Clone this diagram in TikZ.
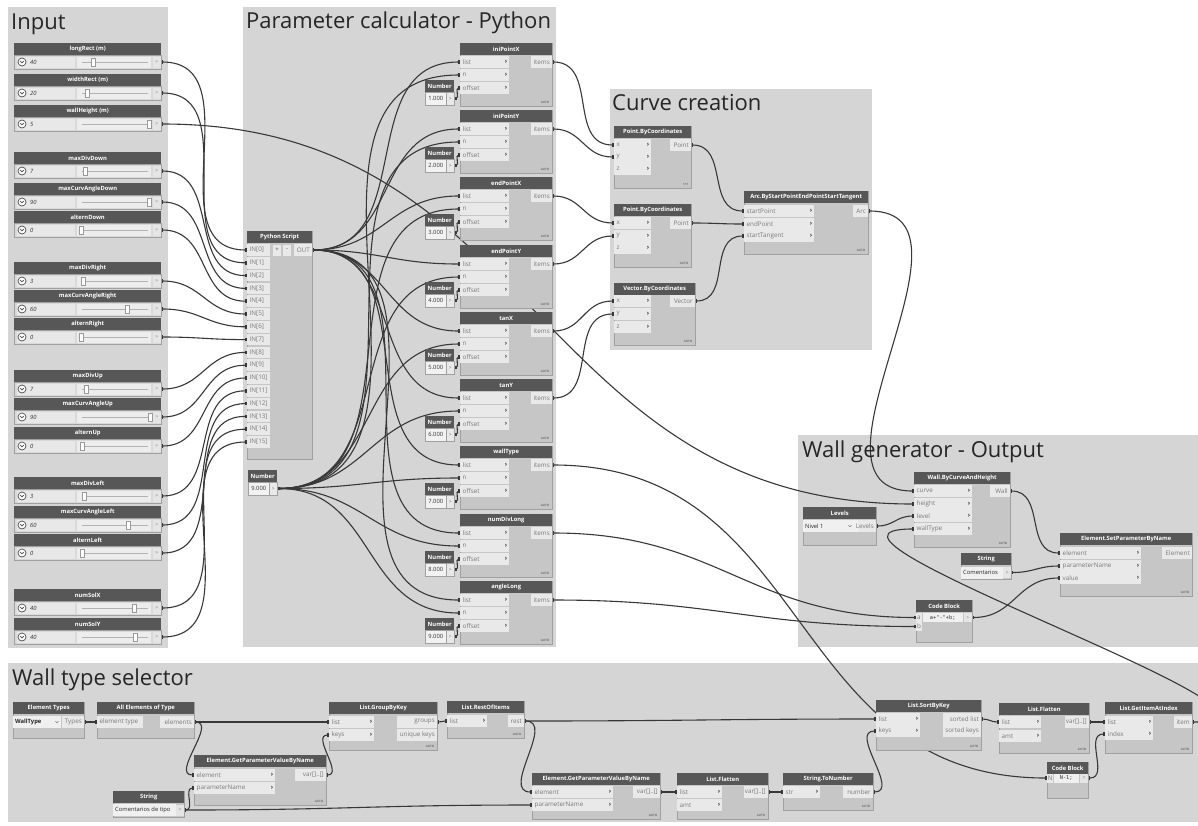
\documentclass[tikz,border=0pt]{standalone}
\usepackage{fontspec}
\setmainfont{Open Sans}
\newfontfamily\monof{DejaVu Sans Mono}
\usetikzlibrary{arrows.meta}
\pgfdeclarelayer{bg}
\pgfdeclarelayer{wires}
\pgfsetlayers{bg,wires,main}
\definecolor{grp}{HTML}{D5D5D5}
\definecolor{hdr}{HTML}{575757}
\definecolor{bdy}{HTML}{C6C6C6}
\definecolor{brd}{HTML}{A0A0A0}
\definecolor{rowc}{HTML}{E9E9E9}
\definecolor{lbl}{HTML}{7A7A7A}
\definecolor{wirec}{HTML}{383838}
\tikzset{
 grptitle/.style={font=\fontsize{22}{22}\selectfont, text=black!85, anchor=base west, inner sep=0pt},
 dbody/.style={fill=bdy, draw=brd, line width=0.6pt, inner sep=0pt},
 dhead/.style={fill=hdr, text=white, font=\fontsize{5.8}{6}\selectfont\bfseries, minimum height=12pt, inner sep=0pt},
 drow/.style={fill=rowc, minimum height=11.5pt, inner sep=0pt},
 dlbl/.style={text=lbl, font=\fontsize{6.3}{6.5}\selectfont, inner sep=0pt},
 darr/.style={text=black!75, font=\fontsize{6.5}{6.5}\selectfont\bfseries, inner sep=0pt},
 dauto/.style={text=black!55, font=\fontsize{3}{3}\selectfont\bfseries, inner sep=0pt, anchor=south east},
 dtxt/.style={text=black!85, font=\fontsize{5.8}{6}\selectfont, inner sep=0pt},
 ddrop/.style={fill=rowc!70!white, minimum height=12pt, inner sep=0pt},
 nval/.style={fill=rowc!60!white, draw=brd, line width=0.5pt, minimum height=12.5pt, font=\fontsize{5.8}{6}\selectfont, text=black!80, inner sep=0pt},
 nport/.style={fill=rowc, draw=brd, line width=0.5pt, minimum height=12.5pt, font=\fontsize{5}{5}\selectfont, text=lbl, inner sep=0pt},
 sbody/.style={fill=black!15, draw=brd, line width=0.5pt, minimum height=13.5pt, inner sep=0pt},
 sfield/.style={fill=black!9, minimum height=11pt, inner sep=0pt},
 strack/.style={fill=black!7, minimum height=11pt, inner sep=0pt},
 sbtn/.style={circle, fill=white, draw=black!70, line width=0.7pt, minimum size=8pt, inner sep=0pt},
 sval/.style={font=\fontsize{5.8}{6}\selectfont\itshape, text=black!80, inner sep=0pt},
 sthumb/.style={fill=white, draw=black!40, line width=0.5pt, minimum width=3.5pt, minimum height=8pt, inner sep=0pt},
 sport/.style={fill=black!10, minimum width=8pt, minimum height=11pt, text=lbl, font=\fontsize{5}{5}\selectfont, inner sep=0pt},
 pbtn/.style={fill=rowc, minimum width=8pt, minimum height=11pt, text=black!70, font=\fontsize{6}{6}\selectfont, inner sep=0pt},
 cfield/.style={fill=rowc!70!white, minimum height=9pt, font=\monof\fontsize{5.3}{5.5}\selectfont, text=black!80, inner sep=0pt},
 wire/.style={draw=wirec, line width=1.1pt, arrows={Rectangle[length=2pt,width=3.5pt]-Rectangle[length=2pt,width=3.5pt]}},
}
\newcommand\dyn[6]{%
  \node[dbody,minimum width=#4pt,minimum height=#5pt,anchor=north west] (#1) at (#2,#3) {};
  \node[dhead,minimum width=#4pt,anchor=north west] (#1h) at (#2,#3) {#6};}
\newcommand\dinx[5]{%
  \node[drow,minimum width=#4pt,anchor=west] (#1) at (#2,#3) {};
  \node[dlbl,anchor=west] (#1l) at ([xshift=2.5pt]#1.west) {#5};}
\newcommand\din[5]{\dinx{#1}{#2}{#3}{#4}{#5}%
  \node[darr,anchor=east] (#1a) at ([xshift=-2pt]#1.east) {›};}
\newcommand\dout[5]{%
  \node[drow,minimum width=#4pt,anchor=east] (#1) at (#2,#3) {};
  \node[dlbl,anchor=east] (#1l) at ([xshift=-2pt]#1.east) {#5};}
\newcommand\dfoot[4]{\node[dauto] (#1) at (#2-2.5,#3-2) {#4};}
\newcommand\numnode[4]{%
  \node[dhead,minimum width=29pt,anchor=north west] (#1) at (#2,#3) {Number};
  \node[nval,minimum width=21pt,anchor=north west] (#1-v) at (#2,#3+12) {#4};
  \node[nport,minimum width=8pt,anchor=north west] (#1-o) at (#2+21,#3+12) {>};}
\newcommand\nth[4]{%
  \dyn{#1}{460}{#2}{92}{63}{#3}%
  \din{#1-list}{460}{#2+19}{49}{list}%
  \din{#1-n}{460}{#2+32}{49}{n}%
  \din{#1-off}{460}{#2+45}{49}{offset}%
  \dout{#1-items}{552}{#2+19}{21}{items}%
  \dfoot{#1-auto}{552}{#2+63}{AUTO}%
  \numnode{#1-num}{425}{#2+37}{#4}}
\newcommand\slider[5]{%
  \node[dhead,minimum width=147pt,anchor=north west] (#1) at (14,#2) {#3};
  \node[sbody,minimum width=147pt,anchor=north west] (#1-b) at (14,#2+12) {};
  \node[sfield,minimum width=58pt,anchor=west] (#1-f) at (17,#2+19) {};
  \node[strack,minimum width=74pt,anchor=west] (#1-k) at (77,#2+19) {};
  \node[sbtn] (#1-c) at (22,#2+19) {};
  \draw[black!70,line width=0.7pt] (20.2,#2+18.1) -- (22,#2+19.9) -- (23.8,#2+18.1);
  \node[sval,anchor=west] (#1-v) at (30,#2+19) {#4};
  \draw[black!30,line width=0.7pt] (82,#2+19) -- (148,#2+19);
  \node[sthumb] (#1-t) at (#5,#2+19) {};
  \node[sport,anchor=east] (#1-o) at (161,#2+19) {>};}
\newcommand\chev[2]{\draw[lbl,line width=0.5pt] (#1-1.5,#2-0.8) -- (#1,#2+0.7) -- (#1+1.5,#2-0.8);}
\newcommand\wire[2]{\draw[wire] (#1) to[out=0,in=180,looseness=1.15] (#2);}
\begin{document}
\begin{tikzpicture}[x=1pt,y=-1pt]
\useasboundingbox (0,0) rectangle (1198,825);
\begin{pgfonlayer}{bg}
  \fill[white] (0,0) rectangle (1198,825);
  \fill[grp] (8,7) rectangle (168,648);
  \fill[grp] (243,7) rectangle (556,647);
  \fill[grp] (610,89) rectangle (872,350);
  \fill[grp] (798,435) rectangle (1198,647);
  \fill[grp] (8,663) rectangle (1198,822);
\end{pgfonlayer}
% group titles
\node[grptitle] (g-in) at (11,29) {Input};
\node[grptitle] (g-pc) at (246,28) {Parameter calculator - Python};
\node[grptitle] (g-cc) at (612,110) {Curve creation};
\node[grptitle] (g-wg) at (802,457) {Wall generator - Output};
\node[grptitle] (g-wt) at (12,685) {Wall type selector};
% sliders
\slider{lr}{43}{longRect (m)}{40}{93}
\slider{wr}{74}{widthRect (m)}{20}{87}
\slider{wh}{105}{wallHeight (m)}{5}{149}
\slider{mdd}{152}{maxDivDown}{7}{85}
\slider{mcad}{183}{maxCurvAngleDown}{90}{149}
\slider{ad}{211}{alternDown}{0}{81}
\slider{mdr}{262}{maxDivRight}{3}{83}
\slider{mcar}{290}{maxCurvAngleRight}{60}{127}
\slider{ar}{318}{alternRight}{0}{81}
\slider{mdu}{370}{maxDivUp}{7}{86}
\slider{mcau}{398}{maxCurvAngleUp}{90}{150}
\slider{au}{427}{alternUp}{0}{82}
\slider{mdl}{477}{maxDivLeft}{3}{84}
\slider{mcal}{506}{maxCurvAngleLeft}{60}{128}
\slider{al}{534}{alternLeft}{0}{82}
\slider{nsx}{589}{numSolX}{40}{134}
\slider{nsy}{618}{numSolY}{40}{135}
% python script
\dyn{py}{247}{231}{65}{228}{Python Script}
\foreach \k in {0,...,15}{\dinx{py-in\k}{247}{250+12.8*\k}{23}{IN[\k]}}
\node[pbtn] (py-plus) at (277,250) {+};
\node[pbtn] (py-minus) at (287,250) {-};
\dout{py-out}{312}{250}{18}{OUT}
\numnode{n9}{248}{470}{9.000}
% take nth nodes
\nth{ipx}{43}{iniPointX}{1.000}
\nth{ipy}{110}{iniPointY}{2.000}
\nth{epx}{177}{endPointX}{3.000}
\nth{epy}{245}{endPointY}{4.000}
\nth{tx}{312}{tanX}{5.000}
\nth{ty}{379}{tanY}{6.000}
\nth{wt}{446}{wallType}{7.000}
\nth{ndl}{514}{numDivLong}{8.000}
\nth{agl}{581}{angleLong}{9.000}
% curve creation
\dyn{pt1}{614}{126}{77}{62}{Point.ByCoordinates}
\din{pt1-x}{614}{145}{37}{x}
\din{pt1-y}{614}{157}{37}{y}
\din{pt1-z}{614}{169}{37}{z}
\dout{pt1-out}{691}{145}{21}{Point}
\dfoot{pt1-f}{691}{188}{111}
\dyn{pt2}{614}{204}{77}{63}{Point.ByCoordinates}
\din{pt2-x}{614}{223}{37}{x}
\din{pt2-y}{614}{236}{37}{y}
\din{pt2-z}{614}{248}{37}{z}
\dout{pt2-out}{691}{223}{21}{Point}
\dfoot{pt2-f}{691}{267}{AUTO}
\dyn{vec}{614}{283}{81}{62}{Vector.ByCoordinates}
\din{vec-x}{614}{301}{37}{x}
\din{vec-y}{614}{314}{37}{y}
\din{vec-z}{614}{327}{37}{z}
\dout{vec-out}{695}{301}{25}{Vector}
\dfoot{vec-f}{695}{345}{AUTO}
\dyn{arc}{744}{191}{124}{63}{Arc.ByStartPointEndPointStartTangent}
\din{arc-sp}{744}{211}{70}{startPoint}
\din{arc-ep}{744}{224}{70}{endPoint}
\din{arc-st}{744}{236}{70}{startTangent}
\dout{arc-out}{868}{211}{15}{Arc}
\dfoot{arc-f}{868}{254}{AUTO}
% wall generator
\dyn{wall}{914}{472}{96}{75}{Wall.ByCurveAndHeight}
\din{wall-curve}{914}{491}{58}{curve}
\din{wall-height}{914}{504}{58}{height}
\din{wall-level}{914}{516}{58}{level}
\din{wall-type}{914}{529}{58}{wallType}
\dout{wall-out}{1010}{491}{20}{Wall}
\dfoot{wall-f}{1010}{547}{AUTO}
\dyn{lev}{803}{507}{73}{38}{Levels}
\node[ddrop,minimum width=55pt,anchor=west] (lev-d) at (803,526) {};
\node[dtxt,anchor=west] (lev-t) at (805,526) {Nivel 1};
\chev{850}{526}
\dout{lev-out}{876}{526}{18}{Levels}
\dyn{str1}{961}{553}{50}{26}{String}
\node[ddrop,minimum width=42pt,anchor=west] (str1-f) at (961,572.5) {};
\node[dtxt,anchor=west] (str1-t) at (963,572.5) {Comentarios};
\node[sport,anchor=west] (str1-o) at (1003,572.5) {>};
\dyn{setp}{1060}{533}{132}{63}{Element.SetParameterByName}
\din{setp-el}{1060}{553}{81}{element}
\din{setp-pn}{1060}{566}{81}{parameterName}
\din{setp-val}{1060}{578}{81}{value}
\dout{setp-out}{1192}{553}{30}{Element}
\dfoot{setp-f}{1192}{596}{AUTO}
\dyn{cb1}{916}{600}{56}{42}{Code Block}
\node[drow,minimum width=5.5pt,minimum height=9pt,anchor=west] (cb1-a) at (916,617.5) {};
\node[dlbl] (cb1-al) at (cb1-a.center) {a};
\node[cfield,minimum width=40pt,anchor=west] (cb1-c) at (922.5,617.5) {a+"-"+b;};
\node[sport,minimum height=9pt,anchor=west] (cb1-o) at (963.5,617.5) {>};
\node[drow,minimum width=5.5pt,minimum height=9pt,anchor=west] (cb1-b) at (916,626.5) {};
\node[dlbl] (cb1-bl) at (cb1-b.center) {b};
% wall type selector
\dyn{et}{13}{702}{71}{36}{Element Types}
\node[ddrop,minimum width=48pt,anchor=west] (et-d) at (13,722) {};
\node[dtxt,anchor=west,font=\fontsize{5.8}{6}\selectfont\bfseries] (et-t) at (15,722) {WallType};
\chev{57}{722}
\dout{et-out}{84}{722}{22}{Types}
\dyn{ae}{97}{702}{97}{36}{All Elements of Type}
\dinx{ae-in}{97}{722}{46}{element type}
\dout{ae-out}{194}{722}{34}{elements}
\dyn{gbk}{329}{702}{108}{48}{List.GroupByKey}
\din{gbk-list}{329}{722}{45}{list}
\din{gbk-keys}{329}{735}{45}{keys}
\dout{gbk-g}{437}{722}{40}{groups}
\dout{gbk-u}{437}{735}{40}{unique keys}
\dfoot{gbk-f}{437}{750}{AUTO}
\dyn{roi}{447}{701}{77}{37}{List.RestOfItems}
\din{roi-list}{447}{721}{40}{list}
\dout{roi-rest}{524}{721}{16}{rest}
\dfoot{roi-f}{524}{738}{AUTO}
\dyn{gp1}{194}{755}{132}{50}{Element.GetParameterValueByName}
\din{gp1-el}{194}{775}{81}{element}
\din{gp1-pn}{194}{788}{81}{parameterName}
\dout{gp1-out}{326}{775}{31}{var[]..[]}
\dfoot{gp1-f}{326}{805}{AUTO}
\dyn{str2}{113}{791}{71}{26}{String}
\node[ddrop,minimum width=63pt,anchor=west] (str2-f) at (113,810) {};
\node[dtxt,anchor=west] (str2-t) at (115,810) {Comentarios de tipo};
\node[sport,anchor=west] (str2-o) at (176,810) {>};
\dyn{gp2}{532}{773}{128}{46}{Element.GetParameterValueByName}
\din{gp2-el}{532}{792}{81}{element}
\din{gp2-pn}{532}{805}{81}{parameterName}
\dout{gp2-out}{660}{792}{27}{var[]..[]}
\dfoot{gp2-f}{660}{819}{AUTO}
\dyn{fl1}{677}{773}{91}{46}{List.Flatten}
\din{fl1-list}{677}{792}{45}{list}
\din{fl1-amt}{677}{805}{45}{amt}
\dout{fl1-out}{768}{792}{24}{var[]..[]}
\dfoot{fl1-f}{768}{819}{AUTO}
\dyn{tn}{783}{773}{90}{37}{String.ToNumber}
\din{tn-str}{783}{792}{37}{str}
\dout{tn-out}{873}{792}{30}{number}
\dfoot{tn-f}{873}{810}{AUTO}
\dyn{sbk}{876}{700}{105}{50}{List.SortByKey}
\din{sbk-list}{876}{719}{44}{list}
\din{sbk-keys}{876}{731}{44}{keys}
\dout{sbk-sl}{981}{719}{38}{sorted list}
\dout{sbk-sk}{981}{731}{38}{sorted keys}
\dfoot{sbk-f}{981}{750}{AUTO}
\dyn{fl2}{999}{703}{90}{50}{List.Flatten}
\din{fl2-list}{999}{722}{42}{list}
\din{fl2-amt}{999}{736}{42}{amt}
\dout{fl2-out}{1089}{722}{24}{var[]..[]}
\dfoot{fl2-f}{1089}{753}{AUTO}
\dyn{gia}{1105}{702}{87}{51}{List.GetItemAtIndex}
\din{gia-list}{1105}{722}{48}{list}
\din{gia-idx}{1105}{734}{48}{index}
\dout{gia-out}{1192}{722}{18}{item}
\dfoot{gia-f}{1192}{753}{AUTO}
\dyn{cb2}{1047}{762}{41}{36}{Code Block}
\node[drow,minimum width=6pt,minimum height=9pt,anchor=west] (cb2-n) at (1047,778) {};
\node[dlbl] (cb2-nl) at (cb2-n.center) {N};
\node[cfield,minimum width=25pt,anchor=west] (cb2-c) at (1053.5,778) {N-1;};
\node[sport,minimum height=9pt,minimum width=8.5pt,anchor=west] (cb2-o) at (1079.5,778) {>};
% wires
\begin{pgfonlayer}{wires}
\foreach \s [count=\i from 0] in {lr,wr,mdd,mcad,ad,mdr,mcar,ar,mdu,mcau,au,mdl,mcal,al,nsx,nsy}{\wire{\s-o.east}{py-in\i.west}}
\wire{wh-o.east}{wall-height.west}
\foreach \t in {ipx,ipy,epx,epy,tx,ty,wt,ndl,agl}{%
  \wire{py-out.east}{\t-list.west}
  \wire{n9-o.east}{\t-n.west}
  \wire{\t-num-o.east}{\t-off.west}}
\wire{ipx-items.east}{pt1-x.west}
\wire{ipy-items.east}{pt1-y.west}
\wire{epx-items.east}{pt2-x.west}
\wire{epy-items.east}{pt2-y.west}
\wire{tx-items.east}{vec-x.west}
\wire{ty-items.east}{vec-y.west}
\wire{pt1-out.east}{arc-sp.west}
\wire{pt2-out.east}{arc-ep.west}
\wire{vec-out.east}{arc-st.west}
\wire{arc-out.east}{wall-curve.west}
\wire{lev-out.east}{wall-level.west}
\wire{wall-out.east}{setp-el.west}
\wire{str1-o.east}{setp-pn.west}
\wire{cb1-o.east}{setp-val.west}
\wire{ndl-items.east}{cb1-a.west}
\wire{agl-items.east}{cb1-b.west}
\wire{wt-items.east}{cb2-n.west}
\wire{gia-out.east}{wall-type.west}
\wire{et-out.east}{ae-in.west}
\wire{ae-out.east}{gbk-list.west}
\wire{ae-out.east}{gp1-el.west}
\wire{str2-o.east}{gp1-pn.west}
\wire{str2-o.east}{gp2-pn.west}
\wire{gp1-out.east}{gbk-keys.west}
\wire{gbk-g.east}{roi-list.west}
\wire{roi-rest.east}{sbk-list.west}
\wire{roi-rest.east}{gp2-el.west}
\wire{gp2-out.east}{fl1-list.west}
\wire{fl1-out.east}{tn-str.west}
\wire{tn-out.east}{sbk-keys.west}
\wire{sbk-sl.east}{fl2-list.west}
\wire{fl2-out.east}{gia-list.west}
\wire{cb2-o.east}{gia-idx.west}
\end{pgfonlayer}
\end{tikzpicture}
\end{document}
